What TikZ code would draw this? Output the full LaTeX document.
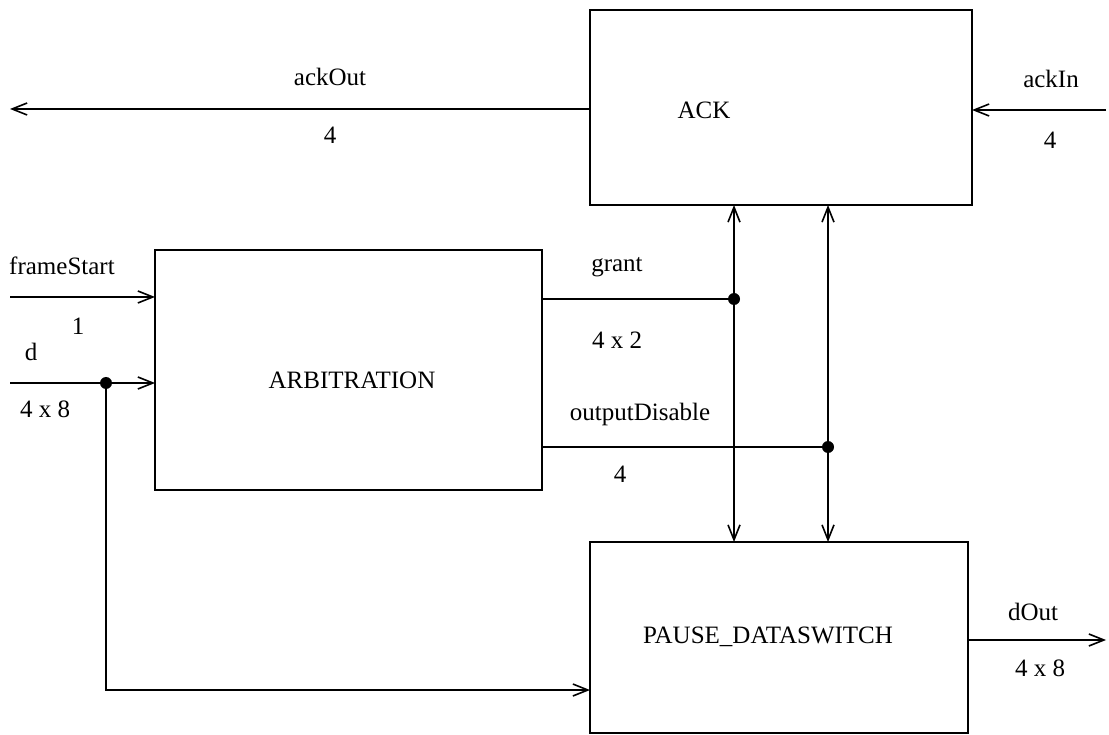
\documentclass[tikz,border=0pt]{standalone}
\usepackage{fontspec}
\setmainfont{Liberation Serif}
\usetikzlibrary{arrows.meta}
\begin{document}
\begin{tikzpicture}[x=1pt,y=-1pt,
  blk/.style={draw, line width=1.7pt, inner sep=0pt, outer sep=0pt},
  wire/.style={line width=1.6pt},
  tipb/.tip={Straight Barb[length=15pt,width=12pt,line width=1.6pt]},
  arr/.style={wire, -tipb},
  arrboth/.style={wire, tipb-tipb},
  dot/.style={circle, fill=black, inner sep=0pt, minimum size=12pt},
  lbl/.style={font=\fontsize{25}{28}\selectfont, inner sep=0pt}]
\useasboundingbox (0,0) rectangle (1109,735);
% blocks
\node[blk, minimum width=382pt, minimum height=195pt] (ack) at (781,107.5) {};
\node[blk, minimum width=387pt, minimum height=240pt] (arb) at (348.5,370) {};
\node[blk, minimum width=378pt, minimum height=191pt] (pause) at (779,637.5) {};
\node[lbl] (ackT) at (704,110) {ACK};
\node[lbl] (arbT) at (352,380) {ARBITRATION};
\node[lbl] (pauseT) at (768,637) {PAUSE\_DATASWITCH};
% ackOut
\coordinate (ackOutEnd) at (10,109);
\draw[arr] (ack.west |- ackOutEnd) -- (ackOutEnd);
\node[lbl] (ackOutL) at (330,77) {ackOut};
\node[lbl] (ackOutN) at (330,135) {4};
% ackIn
\coordinate (ackInStart) at (1106,110);
\draw[arr] (ackInStart) -- (ack.east |- ackInStart);
\node[lbl] (ackInL) at (1051,79) {ackIn};
\node[lbl] (ackInN) at (1050,140) {4};
% frameStart
\coordinate (fsStart) at (10,297);
\draw[arr] (fsStart) -- (arb.west |- fsStart);
\node[lbl, anchor=west] (fsL) at (9,266) {frameStart};
\node[lbl] (fsN) at (78,326) {1};
% d
\coordinate (dStart) at (10,383);
\node[dot] (dj) at (106,383) {};
\draw[arr] (dStart) -- (arb.west |- dStart);
\node[lbl] (dL) at (31,352) {d};
\node[lbl] (dN) at (45,409) {4 x 8};
\coordinate (dBend) at (106,690);
\draw[arr] (dj.center) -- (dBend) -- (pause.west |- dBend);
% grant
\node[dot] (gj) at (734,299) {};
\draw[wire] (arb.east |- gj) -- (gj.center);
\draw[arrboth] (ack.south -| gj) -- (pause.north -| gj);
\node[lbl] (gL) at (617,267) {grant};
\node[lbl] (gN) at (617,340) {4 x 2};
% outputDisable
\node[dot] (oj) at (828,447) {};
\draw[wire] (arb.east |- oj) -- (oj.center);
\draw[arrboth] (ack.south -| oj) -- (pause.north -| oj);
\node[lbl] (oL) at (640,414) {outputDisable};
\node[lbl] (oN) at (620,474) {4};
% dOut
\coordinate (dOutEnd) at (1106,640);
\draw[arr] (pause.east |- dOutEnd) -- (dOutEnd);
\node[lbl] (dOutL) at (1033,612) {dOut};
\node[lbl] (dOutN) at (1040,668) {4 x 8};
\end{tikzpicture}
\end{document}
